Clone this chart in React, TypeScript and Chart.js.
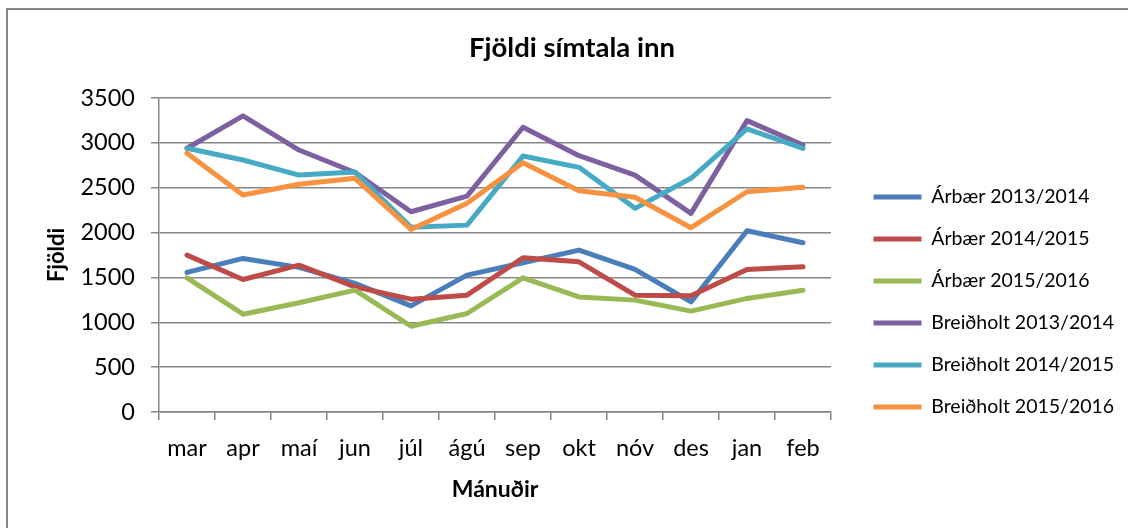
import React, { useEffect, useRef } from "react";
import { Chart, registerables } from "chart.js";

Chart.register(...registerables);

const months = ["mar", "apr", "maí", "jun", "júl", "ágú", "sep", "okt", "nóv", "des", "jan", "feb"];
const arbaer1314 = [1556, 1712, 1612, 1433, 1183, 1526, 1663, 1805, 1589, 1228, 2020, 1886];
const arbaer1415 = [1749, 1477, 1637, 1395, 1258, 1302, 1719, 1674, 1302, 1295, 1589, 1618];
const arbaer1516 = [1496, 1090, 1217, 1358, 956, 1098, 1496, 1283, 1247, 1124, 1266, 1358];
const breid1314 = [2940, 3300, 2920, 2670, 2232, 2407, 3174, 2857, 2641, 2214, 3248, 2976];
const breid1415 = [2940, 2809, 2641, 2675, 2058, 2083, 2854, 2727, 2270, 2605, 3155, 2939];
const breid1516 = [2884, 2418, 2538, 2605, 2035, 2326, 2779, 2466, 2393, 2054, 2455, 2504];

const seriesLabels = [
  "Árbær 2013/2014",
  "Árbær 2014/2015",
  "Árbær 2015/2016",
  "Breiðholt 2013/2014",
  "Breiðholt 2014/2015",
  "Breiðholt 2015/2016",
];
const seriesData = [arbaer1314, arbaer1415, arbaer1516, breid1314, breid1415, breid1516];
const seriesColors = ["#4A7EBB", "#BE4B48", "#98B954", "#7D60A0", "#46AAC5", "#F69240"];

const chartTitle = "Fjöldi símtala inn";
const xTitle = "Mánuðir";
const yTitle = "Fjöldi";

const W = 1160;
const H = 604;
const FONT = "Lato, 'Open Sans', sans-serif";
const LEGEND_SIZE = 19.5;
const LEGEND_PAD = 22.5;
const LEGEND_BOX = 48;

const frame = {
  id: "frame",
  beforeDraw(chart: any) {
    const ctx = chart.ctx;
    ctx.save();
    ctx.fillStyle = "#ffffff";
    ctx.fillRect(0, 0, chart.width, chart.height);
    ctx.strokeStyle = "#868686";
    ctx.lineWidth = 2;
    ctx.beginPath();
    ctx.moveTo(7, chart.height + 5);
    ctx.lineTo(7, 9);
    ctx.lineTo(chart.width + 5, 9);
    ctx.stroke();
    ctx.restore();
  },
};

export default function App() {
  const ref = useRef<HTMLCanvasElement>(null);
  useEffect(() => {
    if (!ref.current) return;
    const mctx = ref.current.getContext("2d")!;
    mctx.save();
    mctx.font = `normal ${LEGEND_SIZE}px ${FONT}`;
    const textW = Math.max(...seriesLabels.map((s) => mctx.measureText(s).width));
    mctx.restore();
    const legendW = LEGEND_PAD + LEGEND_BOX + LEGEND_SIZE / 2 + textW + 10;
    const legendLeft = 851;
    const padL = 1144 - legendLeft - legendW;
    const padR = W - legendLeft - legendW;
    const yTitlePad = Math.max(0, 57 - padL - 13.2);
    const yAxisW = 159 - padL;

    const n = seriesData.length;
    const chart = new Chart(ref.current, {
      type: "line",
      data: {
        labels: months,
        datasets: seriesData.map((d, i) => ({
          label: seriesLabels[i],
          data: d,
          borderColor: seriesColors[i],
          backgroundColor: seriesColors[i],
          borderWidth: 5,
          pointRadius: 0,
          pointHoverRadius: 0,
          tension: 0,
          borderJoinStyle: "round" as const,
          borderCapStyle: "round" as const,
          order: n - i,
        })),
      },
      options: {
        responsive: false,
        animation: false,
        devicePixelRatio: 1,
        layout: { padding: { left: padL, right: padR, top: 0, bottom: 0 } },
        plugins: {
          tooltip: { enabled: false },
          title: {
            display: true,
            text: chartTitle,
            color: "#000",
            font: { family: FONT, size: 27.5, weight: "bold" },
            padding: { top: 32, bottom: 33 },
          },
          legend: {
            display: true,
            position: "right",
            align: "center",
            maxWidth: 600,
            labels: {
              color: "#000",
              font: { family: FONT, size: LEGEND_SIZE },
              usePointStyle: true,
              pointStyle: "line",
              pointStyleWidth: LEGEND_BOX,
              padding: LEGEND_PAD,
              sort: (a: any, b: any) => a.datasetIndex - b.datasetIndex,
            },
          },
        },
        scales: {
          x: {
            type: "category",
            offset: true,
            grid: {
              display: true,
              offset: true,
              drawOnChartArea: false,
              drawTicks: true,
              tickLength: 8,
              color: "#868686",
              lineWidth: 1.5,
            },
            border: { display: true, color: "#868686", width: 1.5 },
            ticks: {
              color: "#000",
              font: { family: FONT, size: 23.5 },
              padding: 14,
              maxRotation: 0,
              autoSkip: false,
            },
            title: {
              display: true,
              text: xTitle,
              color: "#000",
              font: { family: FONT, size: 23, weight: "bold" },
              padding: { top: 0, bottom: 101 },
            },
            afterFit(scale: any) {
              scale.height = 192;
            },
          },
          y: {
            min: 0,
            max: 3500,
            position: "left",
            grid: {
              display: true,
              drawTicks: true,
              tickLength: 8,
              color: "#868686",
              lineWidth: 1.5,
            },
            border: { display: true, color: "#868686", width: 1.5 },
            ticks: {
              stepSize: 500,
              color: "#000",
              font: { family: FONT, size: 23.5 },
              padding: 16,
              callback: (v: any) => String(v),
            },
            title: {
              display: true,
              text: yTitle,
              color: "#000",
              font: { family: FONT, size: 22, weight: "bold" },
              padding: { top: yTitlePad, bottom: 0 },
            },
            afterFit(scale: any) {
              scale.width = yAxisW;
            },
          },
          gap: {
            type: "linear",
            position: "right",
            display: true,
            grid: { display: false, drawTicks: false },
            border: { display: false },
            ticks: { display: false },
            afterFit(scale: any) {
              scale.width = 20;
            },
          },
        },
      },
      plugins: [frame],
    });
    return () => chart.destroy();
  }, []);
  return (
    <div style={{ position: "fixed", left: 0, top: 0, width: 1128, height: 528, overflow: "hidden", background: "#fff" }}>
      <canvas ref={ref} width={W} height={H} style={{ display: "block", width: W, height: H }} />
    </div>
  );
}
